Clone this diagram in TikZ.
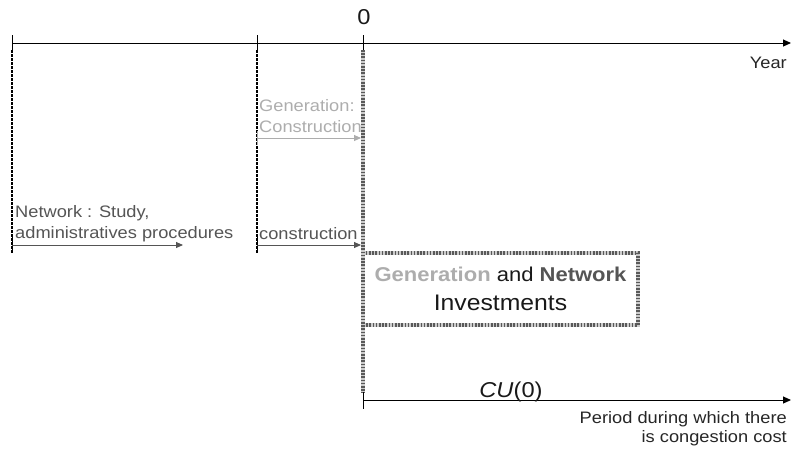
\documentclass[tikz,border=0pt]{standalone}
\usepackage{fontspec}
\setmainfont{Liberation Sans}[FakeStretch=1.1]
\usetikzlibrary{arrows.meta,calc}
\definecolor{genGray}{HTML}{ADADAD}
\definecolor{netGray}{HTML}{555555}
\begin{document}
\begin{tikzpicture}[x=1pt,y=-1pt,
  small/.style={font=\fontsize{16.6}{21.5}\selectfont, inner sep=0pt, text=black!85},
  big/.style={font=\fontsize{21.5}{29}\selectfont, inner sep=0pt, text=black!90},
  axis/.style={line width=1pt, -{Triangle[length=8pt,width=7pt]}},
  tick/.style={line width=1pt},
  guide/.style={line width=1.2pt, dash pattern=on 2.5pt off 1.5pt},
  span/.style={line width=0.9pt, -{Triangle[length=7pt,width=6pt]}},
  hatch/.style={draw=gray!40, line width=3.8pt, postaction={draw=black!65, line width=3.8pt, dash pattern=on 1.6pt off 1.6pt}}]
\useasboundingbox (0,0) rectangle (791,451);
\coordinate (yst) at (12,43);
\coordinate (yend) at (791,43);
\coordinate (tnet) at (12,43);
\coordinate (tgen) at (257,43);
\coordinate (tzero) at (363,43);
\draw[axis] (yst) -- (yend);
\draw[tick] ($(tnet)+(0,-8)$) -- ($(tnet)+(0,7)$);
\draw[tick] ($(tgen)+(0,-8)$) -- ($(tgen)+(0,7)$);
\draw[tick] ($(tzero)+(0,-8)$) -- ($(tzero)+(0,7)$);
\node[big, anchor=base] (zero) at (364,24) {0};
\node[small, anchor=base east] (year) at (787,68) {Year};
\coordinate (nbot) at (12,253);
\coordinate (gbot) at (257,253);
\draw[guide] ($(tnet)+(0,7)$) -- (nbot);
\draw[guide] ($(tgen)+(0,7)$) -- (gbot);
\coordinate (gas) at (257,138);
\coordinate (gae) at (361,138);
\draw[tick, genGray] ($(gas)+(0,-7)$) -- ($(gas)+(0,7)$);
\draw[span, genGray] (gas) -- (gae);
\node[small, text=genGray, anchor=north west, align=left] (genlbl) at (259,99) {Generation:\\Construction};
\coordinate (nas) at (12,245);
\coordinate (nae) at (183,245);
\draw[tick] ($(nas)+(0,-8)$) -- (nbot);
\draw[span, netGray] (nas) -- (nae);
\node[small, text=netGray, anchor=north west, align=left] (netlbl) at (15,205) {Network : Study,\\administratives procedures};
\coordinate (cas) at (257,245);
\coordinate (cae) at (361,245);
\draw[tick] ($(cas)+(0,-8)$) -- (gbot);
\draw[span, netGray] (cas) -- (cae);
\node[small, text=netGray, anchor=base west] (conlbl) at (259,239) {construction};
\node[hatch, big, align=center, minimum width=275pt, minimum height=72pt] (inv) at (500.5,289) {\fontsize{20}{29}\selectfont{\color{genGray}\bfseries Generation} and {\color{netGray}\bfseries Network}\\\fontsize{22.5}{29}\selectfont Investments};
\coordinate (htop) at (363,50);
\coordinate (hbot) at (363,393);
\draw[hatch] (htop) -- (hbot);
\coordinate (cst) at (363,400);
\coordinate (cend) at (791,400);
\draw[axis] (cst) -- (cend);
\draw[tick] ($(cst)+(0,-8)$) -- ($(cst)+(0,9)$);
\node[big, anchor=base] (cu) at (511,397) {\textit{CU}(0)};
\node[small, anchor=north east, align=right, font=\fontsize{16.6}{19.5}\selectfont] (period) at (787,411) {Period during which there\\is congestion cost};
\end{tikzpicture}
\end{document}
